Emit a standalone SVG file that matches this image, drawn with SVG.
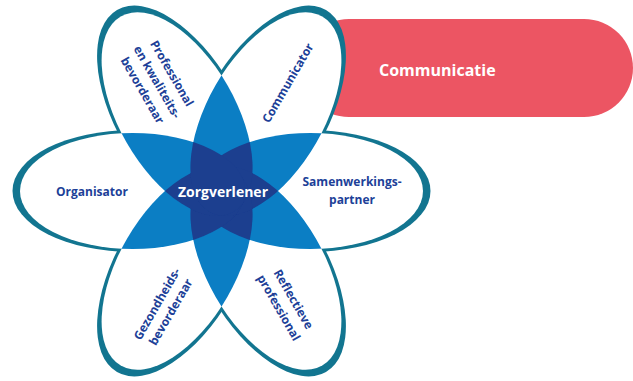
<svg xmlns="http://www.w3.org/2000/svg" xmlns:xlink="http://www.w3.org/1999/xlink" width="633" height="381" viewBox="0 0 633 381">
<style>
.halo{fill:#127590}
.petal{fill:#ffffff}
.mb{fill:#0b7ec4}
.db{fill:#1c3f8f}
.lbl{font-family:"Open Sans","Liberation Sans",sans-serif;font-weight:700;font-size:12px;fill:#203f98;text-anchor:middle}
.wl{font-family:"Open Sans","Liberation Sans",sans-serif;font-weight:700;fill:#ffffff}
</style>
<defs>
<ellipse id="e0" rx="112.7" ry="58" transform="translate(221.5,191) rotate(0) translate(88.8,0)"/>
<ellipse id="e1" rx="112.7" ry="58" transform="translate(221.5,191) rotate(60) translate(88.8,0)"/>
<ellipse id="e2" rx="112.7" ry="58" transform="translate(221.5,191) rotate(120) translate(88.8,0)"/>
<ellipse id="e3" rx="112.7" ry="58" transform="translate(221.5,191) rotate(180) translate(88.8,0)"/>
<ellipse id="e4" rx="112.7" ry="58" transform="translate(221.5,191) rotate(240) translate(88.8,0)"/>
<ellipse id="e5" rx="112.7" ry="58" transform="translate(221.5,191) rotate(300) translate(88.8,0)"/>
<ellipse id="h0" rx="120.2" ry="61" transform="translate(221.5,191) rotate(0) translate(88.8,0)"/>
<ellipse id="h1" rx="120.2" ry="61" transform="translate(221.5,191) rotate(60) translate(88.8,0)"/>
<ellipse id="h2" rx="120.2" ry="61" transform="translate(221.5,191) rotate(120) translate(88.8,0)"/>
<ellipse id="h3" rx="120.2" ry="61" transform="translate(221.5,191) rotate(180) translate(88.8,0)"/>
<ellipse id="h4" rx="120.2" ry="61" transform="translate(221.5,191) rotate(240) translate(88.8,0)"/>
<ellipse id="h5" rx="120.2" ry="61" transform="translate(221.5,191) rotate(300) translate(88.8,0)"/>
<clipPath id="c0"><use href="#e0" xlink:href="#e0"/></clipPath>
<clipPath id="c1"><use href="#e1" xlink:href="#e1"/></clipPath>
<clipPath id="c2"><use href="#e2" xlink:href="#e2"/></clipPath>
<clipPath id="c3"><use href="#e3" xlink:href="#e3"/></clipPath>
<clipPath id="c4"><use href="#e4" xlink:href="#e4"/></clipPath>
<clipPath id="c5"><use href="#e5" xlink:href="#e5"/></clipPath>
</defs>
<rect width="633" height="381" fill="#ffffff"/>
<g id="communicatie">
<rect x="300" y="19" width="333" height="98" rx="49" fill="#ec5563"/>
<text class="wl" x="379" y="76" font-size="16">Communicatie</text>
</g>
<g id="flower">
<g id="outlines">
<use href="#h0" class="halo"/><use href="#h1" class="halo"/><use href="#h2" class="halo"/>
<use href="#h3" class="halo"/><use href="#h4" class="halo"/><use href="#h5" class="halo"/>
</g>
<g id="petal-fills">
<use href="#e0" class="petal"/><use href="#e1" class="petal"/><use href="#e2" class="petal"/>
<use href="#e3" class="petal"/><use href="#e4" class="petal"/><use href="#e5" class="petal"/>
</g>
<g id="overlap2">
<g clip-path="url(#c1)"><use href="#e0" class="mb"/></g>
<g clip-path="url(#c2)"><use href="#e0" class="mb"/></g>
<g clip-path="url(#c3)"><use href="#e0" class="mb"/></g>
<g clip-path="url(#c4)"><use href="#e0" class="mb"/></g>
<g clip-path="url(#c5)"><use href="#e0" class="mb"/></g>
<g clip-path="url(#c2)"><use href="#e1" class="mb"/></g>
<g clip-path="url(#c3)"><use href="#e1" class="mb"/></g>
<g clip-path="url(#c4)"><use href="#e1" class="mb"/></g>
<g clip-path="url(#c5)"><use href="#e1" class="mb"/></g>
<g clip-path="url(#c3)"><use href="#e2" class="mb"/></g>
<g clip-path="url(#c4)"><use href="#e2" class="mb"/></g>
<g clip-path="url(#c5)"><use href="#e2" class="mb"/></g>
<g clip-path="url(#c4)"><use href="#e3" class="mb"/></g>
<g clip-path="url(#c5)"><use href="#e3" class="mb"/></g>
<g clip-path="url(#c5)"><use href="#e4" class="mb"/></g>
</g>
<g id="overlap3">
<g clip-path="url(#c2)"><g clip-path="url(#c1)"><use href="#e0" class="db"/></g></g>
<g clip-path="url(#c3)"><g clip-path="url(#c1)"><use href="#e0" class="db"/></g></g>
<g clip-path="url(#c4)"><g clip-path="url(#c1)"><use href="#e0" class="db"/></g></g>
<g clip-path="url(#c5)"><g clip-path="url(#c1)"><use href="#e0" class="db"/></g></g>
<g clip-path="url(#c3)"><g clip-path="url(#c2)"><use href="#e0" class="db"/></g></g>
<g clip-path="url(#c4)"><g clip-path="url(#c2)"><use href="#e0" class="db"/></g></g>
<g clip-path="url(#c5)"><g clip-path="url(#c2)"><use href="#e0" class="db"/></g></g>
<g clip-path="url(#c4)"><g clip-path="url(#c3)"><use href="#e0" class="db"/></g></g>
<g clip-path="url(#c5)"><g clip-path="url(#c3)"><use href="#e0" class="db"/></g></g>
<g clip-path="url(#c5)"><g clip-path="url(#c4)"><use href="#e0" class="db"/></g></g>
<g clip-path="url(#c3)"><g clip-path="url(#c2)"><use href="#e1" class="db"/></g></g>
<g clip-path="url(#c4)"><g clip-path="url(#c2)"><use href="#e1" class="db"/></g></g>
<g clip-path="url(#c5)"><g clip-path="url(#c2)"><use href="#e1" class="db"/></g></g>
<g clip-path="url(#c4)"><g clip-path="url(#c3)"><use href="#e1" class="db"/></g></g>
<g clip-path="url(#c5)"><g clip-path="url(#c3)"><use href="#e1" class="db"/></g></g>
<g clip-path="url(#c5)"><g clip-path="url(#c4)"><use href="#e1" class="db"/></g></g>
<g clip-path="url(#c4)"><g clip-path="url(#c3)"><use href="#e2" class="db"/></g></g>
<g clip-path="url(#c5)"><g clip-path="url(#c3)"><use href="#e2" class="db"/></g></g>
<g clip-path="url(#c5)"><g clip-path="url(#c4)"><use href="#e2" class="db"/></g></g>
<g clip-path="url(#c5)"><g clip-path="url(#c4)"><use href="#e3" class="db"/></g></g>
</g>
</g>
<g id="node-zorgverlener"><text class="wl" x="223" y="197" font-size="14" text-anchor="middle">Zorgverlener</text></g>
<g id="node-organisator"><text class="lbl" x="92" y="196">Organisator</text></g>
<g id="node-samenwerkingspartner"><text class="lbl" x="352" y="186">Samenwerkings-<tspan x="352" y="204">partner</tspan></text></g>
<g id="node-communicator"><text class="lbl" transform="translate(288,83) rotate(-60)" x="0" y="4">Communicator</text></g>
<g id="node-professional"><text class="lbl" transform="translate(157,82) rotate(60)"><tspan x="0" y="-13">Professional</tspan><tspan x="0" y="4">en kwaliteits-</tspan><tspan x="0" y="21">bevorderaar</tspan></text></g>
<g id="node-gezondheidsbevorderaar"><text class="lbl" transform="translate(164,308) rotate(-60)"><tspan x="0" y="-4">Gezondheids-</tspan><tspan x="0" y="12">bevorderaar</tspan></text></g>
<g id="node-reflectieve"><text class="lbl" transform="translate(286,303.5) rotate(60)"><tspan x="0" y="-4.5">Reflectieve</tspan><tspan x="0" y="12.5">professional</tspan></text></g>
</svg>
